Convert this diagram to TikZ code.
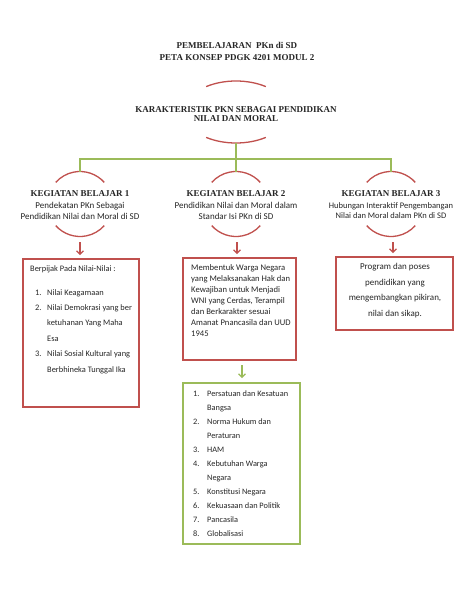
\documentclass[tikz,border=0pt]{standalone}
\usepackage{fontspec}
\setmainfont{Carlito}
\newfontfamily\tnr{Liberation Serif}
\usetikzlibrary{arrows.meta}
\definecolor{pred}{HTML}{C0504D}
\definecolor{pgreen}{HTML}{9BBB59}
\definecolor{ptext}{HTML}{262626}
\newcommand\numit[2]{\makebox[12pt][l]{#1}#2}
\newcommand\contit[1]{\hspace*{12pt}#1}
\newcommand\numitg[2]{\makebox[14pt][l]{#1}#2}
\newcommand\contitg[1]{\hspace*{14pt}#1}
\begin{document}
\begin{tikzpicture}[x=1pt,y=1pt,
  ttl/.style={font=\fontsize{9}{12}\tnr\bfseries, align=center, inner sep=0, text=ptext},
  kttl/.style={font=\fontsize{9}{8.5}\tnr\bfseries, align=center, inner sep=0, text=ptext},
  khead/.style={font=\fontsize{9}{11}\tnr\bfseries, inner sep=0, anchor=base, text=ptext},
  ksub/.style={font=\fontsize{9}{11}\selectfont, align=center, inner sep=0, anchor=base, text=ptext},
  arcst/.style={draw=pred, line width=1.3pt},
  gline/.style={draw=pgreen, line width=1.5pt},
  redbox/.style={draw=pred, line width=1.6pt, rectangle, inner sep=0},
  greenbox/.style={draw=pgreen, line width=1.6pt, rectangle, inner sep=0},
  redarr/.style={draw=pred, line width=1.3pt, -{Straight Barb[length=3.5pt,width=7pt]}},
  greenarr/.style={draw=pgreen, line width=1.3pt, -{Straight Barb[length=3.5pt,width=7pt]}},
  boxtxt/.style={inner sep=0, align=left, anchor=base west, text=ptext},
]
\useasboundingbox (0,0) rectangle (474,-613);
\fill[white] (0,0) rectangle (474,-613);

% titles
\node[ttl] (title) at (237,-51) {PEMBELAJARAN\ \ PKn di SD\\PETA KONSEP PDGK 4201 MODUL 2};
\node[kttl] (karak) at (236,-114) {KARAKTERISTIK PKN SEBAGAI PENDIDIKAN\\NILAI DAN MORAL};

% top ellipse arcs
\coordinate (ec) at (236,-112);
\coordinate (ebot) at (236,-143);
\draw[arcst] ([shift={(55:52pt and 31pt)}]ec) arc[start angle=55,end angle=125,x radius=52pt,y radius=31pt];
\draw[arcst] ([shift={(235:52pt and 31pt)}]ec) arc[start angle=235,end angle=305,x radius=52pt,y radius=31pt];

% kegiatan circles
\coordinate (c1) at (80,-204);
\coordinate (c2) at (236,-204);
\coordinate (c3) at (391,-204);
\coordinate (t1) at (80,-171.5);
\coordinate (t2) at (236,-171.5);
\coordinate (t3) at (391,-171.5);
\coordinate (b1) at (80,-236.5);
\coordinate (b2) at (237,-236.5);
\coordinate (b3) at (393,-236.5);
\foreach \c in {c1,c2,c3}{
  \draw[arcst] ([shift={(41.7:32.5pt)}]\c) arc[start angle=41.7,end angle=138.3,radius=32.5pt];
  \draw[arcst] ([shift={(221.7:32.5pt)}]\c) arc[start angle=221.7,end angle=318.3,radius=32.5pt];
}

% green connector tree
\coordinate (jn) at (236,-159);
\draw[gline] (ebot) -- (jn) -- (t2);
\draw[gline] (t1) -- (t1 |- jn) -- (t3 |- jn) -- (t3);

% kegiatan headings
\node[khead] (k1) at (80,-196) {KEGIATAN BELAJAR 1};
\node[khead] (k2) at (236,-196) {KEGIATAN BELAJAR 2};
\node[khead] (k3) at (391,-196) {KEGIATAN BELAJAR 3};
\node[ksub] (s1) at (80,-219) {Pendekatan PKn Sebagai\\Pendidikan Nilai dan Moral di SD};
\node[ksub] (s2) at (236,-219) {Pendidikan Nilai dan Moral dalam\\Standar Isi PKn di SD};
\node[ksub, font=\fontsize{8.5}{10}\selectfont] (s3) at (391,-218) {Hubungan Interaktif Pengembangan\\Nilai dan Moral dalam PKn di SD};

% boxes
\node[redbox, minimum width=116pt, minimum height=148pt] (box1) at (81,-333) {};
\node[redbox, minimum width=113pt, minimum height=102pt] (box2) at (239.5,-309) {};
\node[redbox, minimum width=117pt, minimum height=73pt] (box3) at (394.5,-293.5) {};
\node[greenbox, minimum width=117pt, minimum height=161pt] (box4) at (241.5,-463.5) {};

% arrows
\draw[redarr] ([yshift=-5.5pt]b1) -- ([yshift=3pt]b1 |- box1.north);
\draw[redarr] ([yshift=-5.5pt]b2) -- ([yshift=3pt]b2 |- box2.north);
\draw[redarr] ([yshift=-5.5pt]b3) -- ([yshift=3pt]b3 |- box3.north);
\coordinate (g1) at (242,-360);
\draw[greenarr] ([yshift=-5pt]g1) -- ([yshift=4pt]g1 |- box4.north);

% box texts (base anchor = baseline of last line)
\node[boxtxt, font=\fontsize{8.4}{15.4}\selectfont] (b1head) at (30,-271) {Berpijak Pada Nilai-Nilai :};
\node[boxtxt, font=\fontsize{8.4}{15.4}\selectfont] (b1list) at (35,-372) {%
\numit{1.}{Nilai Keagamaan}\\
\numit{2.}{Nilai Demokrasi yang ber}\\
\contit{ketuhanan Yang Maha}\\
\contit{Esa}\\
\numit{3.}{Nilai Sosial Kultural yang}\\
\contit{Berbhineka Tunggal Ika}};

\node[boxtxt, font=\fontsize{8.6}{11}\selectfont] (b2txt) at (191,-336) {%
Membentuk Warga Negara\\
yang Melaksanakan Hak dan\\
Kewajiban untuk Menjadi\\
WNI yang Cerdas, Terampil\\
dan Berkarakter sesuai\\
Amanat Pnancasila dan UUD\\
1945};

\node[inner sep=0, align=center, anchor=base, text=ptext, font=\fontsize{9}{15.4}\selectfont] (b3txt) at (395,-316) {%
Program dan poses\\
pendidikan yang\\
mengembangkan pikiran,\\
nilai dan sikap.};

\node[boxtxt, font=\fontsize{8.3}{14}\selectfont] (b4list) at (193,-536) {%
\numitg{1.}{Persatuan dan Kesatuan}\\
\contitg{Bangsa}\\
\numitg{2.}{Norma Hukum dan}\\
\contitg{Peraturan}\\
\numitg{3.}{HAM}\\
\numitg{4.}{Kebutuhan Warga}\\
\contitg{Negara}\\
\numitg{5.}{Konstitusi Negara}\\
\numitg{6.}{Kekuasaan dan Politik}\\
\numitg{7.}{Pancasila}\\
\numitg{8.}{Globalisasi}};
\end{tikzpicture}
\end{document}
